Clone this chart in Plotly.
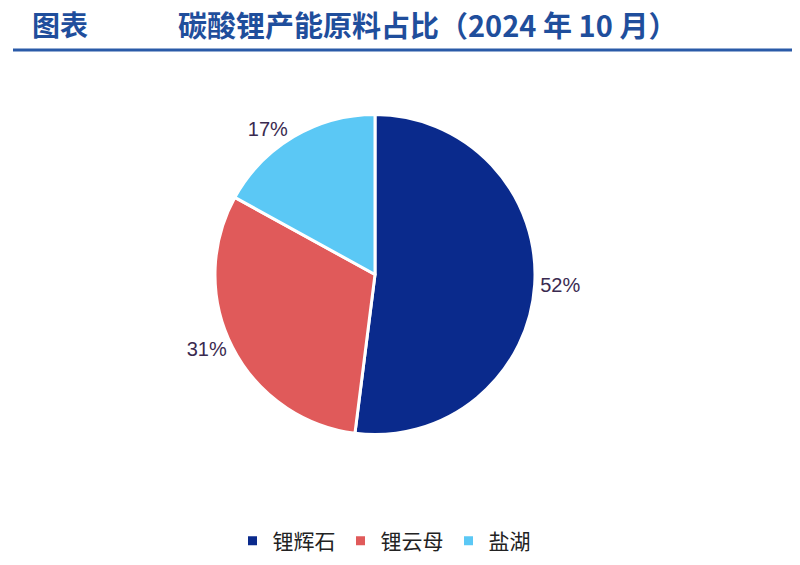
import plotly.graph_objects as go

labels = ["锂辉石", "锂云母", "盐湖"]
values = [52, 31, 17]
colors = ["#0a2a8c", "#e05a5a", "#5bc8f5"]

W, H = 800, 565
fig = go.Figure(go.Pie(
    labels=labels, values=values, sort=False, direction="clockwise", rotation=0,
    marker=dict(colors=colors, line=dict(color="white", width=3)),
    texttemplate="%{value}%", textposition="outside",
    textfont=dict(size=20, color="#3a2a50", family="Liberation Sans"),
    domain=dict(x=[207/W, 527/W], y=[1-427/H, 1-106/H]),
))
fig.update_layout(
    width=W, height=H, margin=dict(l=0, r=0, t=0, b=0),
    paper_bgcolor="white", plot_bgcolor="white",
    font=dict(family="Noto Sans CJK SC"),
    legend=dict(orientation="h", x=0.47, xanchor="center", y=1-533/H, yanchor="middle",
                font=dict(size=21, color="#222"), itemwidth=30),
    annotations=[
        dict(text="<b>图表</b>", x=22/W, y=1-16/H, xref="paper", yref="paper",
             xanchor="left", yanchor="middle", showarrow=False,
             font=dict(size=28, color="#1f4e9c")),
        dict(text="<b>碳酸锂产能原料占比（2024 年 10 月）</b>", x=168/W, y=1-16/H,
             xref="paper", yref="paper", xanchor="left", yanchor="middle", showarrow=False,
             font=dict(size=29, color="#1f4e9c")),
    ],
    shapes=[dict(type="line", xref="paper", yref="paper", x0=5/W, x1=1, y0=1-42/H, y1=1-42/H,
                 line=dict(color="#2a5aa8", width=3))],
)
fig.write_html("out.html")
